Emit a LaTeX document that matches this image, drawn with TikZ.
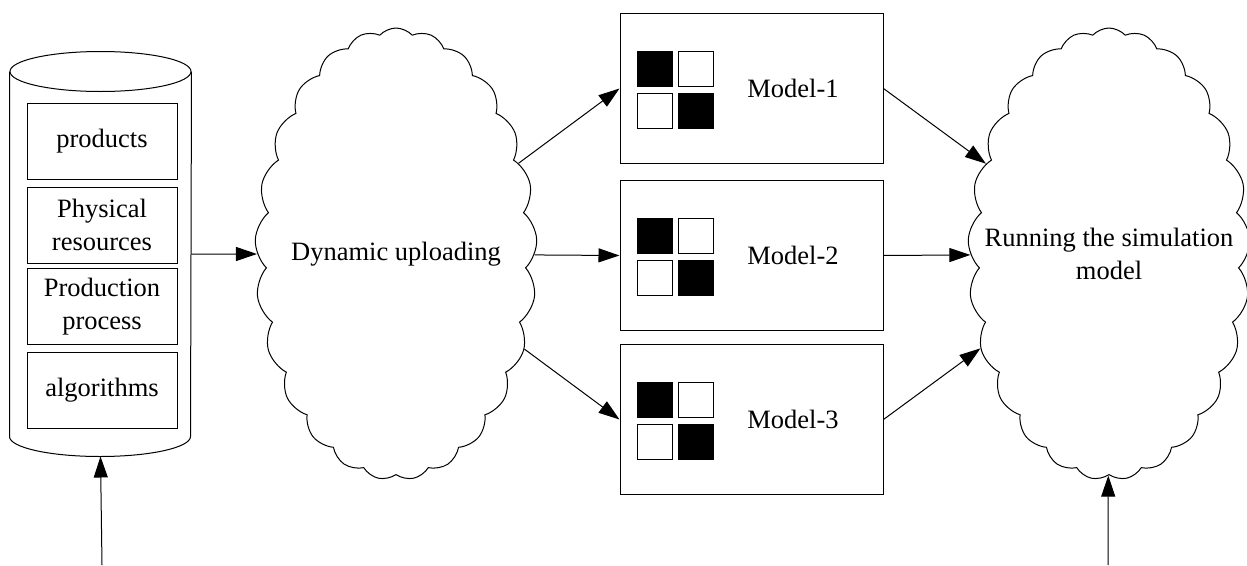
\documentclass[tikz,border=0pt]{standalone}
\usepackage{fontspec}
\setmainfont{Liberation Serif}
\usetikzlibrary{shapes.symbols,arrows.meta}

\begin{document}
\begin{tikzpicture}[x=1pt, y=-1pt, line width=1pt,
	font=\fontsize{26.5}{33}\selectfont,
	flow/.style={-{Triangle[length=21pt,width=14pt]}},
	layer/.style={draw, minimum width=150pt, minimum height=76pt, inner sep=0pt, align=center},
	modelbox/.style={draw, minimum width=263pt, minimum height=150pt},
	cell/.style={draw, minimum size=35pt, inner sep=0pt},
	puff/.style={cloud, draw, cloud puffs=25, cloud puff arc=95, cloud ignores aspect,
		minimum width=282pt, minimum height=452pt, inner sep=0pt}]
	\useasboundingbox (0,0) rectangle (1247,565);

	\node[minimum width=181pt, minimum height=404pt, inner sep=0pt] (store) at (100.5,254) {};
	\draw ([yshift=-20pt]store.north west) -- ([yshift=20pt]store.south west)
		arc[start angle=180, end angle=360, x radius=90.5pt, y radius=20pt]
		-- ([yshift=-20pt]store.north east);
	\draw ([yshift=-20pt]store.north) ellipse [x radius=90.5pt, y radius=20pt];
	\node[layer] (products) at (102,141.5) {\raisebox{6pt}{products}};
	\node[layer] (resources) at (102,225) {Physical\\resources};
	\node[layer] (process) at (102,306.5) {Production\\process};
	\node[layer] (algorithms) at (102,390) {algorithms};

	\node[puff] (upload) at (396,254) {};
	\node (upload-text) at (upload) {Dynamic uploading};
	\node[puff] (run) at (1109,254) {};
	\node[align=center] (run-text) at (run) {Running the simulation\\model};

	\foreach \i/\y in {1/88.5, 2/255.5, 3/419.5} {
		\node[modelbox] (model\i) at (751.5,\y) {};
		\node[cell, fill=black] (model\i-a) at (654.5,\y-19.5) {};
		\node[cell] (model\i-b) at (696,\y-19.5) {};
		\node[cell] (model\i-c) at (654.5,\y+22.5) {};
		\node[cell, fill=black] (model\i-d) at (696,\y+22.5) {};
		\node (model\i-name) at (793,\y) {Model-\i};
		\draw[flow] (upload) -- (model\i.west);
		\draw[flow] (model\i.east) -- (run);
	}

	\coordinate (store-in) at (102,565);
	\coordinate (run-in) at (1108,565);
	\draw[flow] (store) -- (upload);
	\draw[flow] (store-in) -- (store.south);
	\draw[flow] (run-in) -- (run);
\end{tikzpicture}
\end{document}
